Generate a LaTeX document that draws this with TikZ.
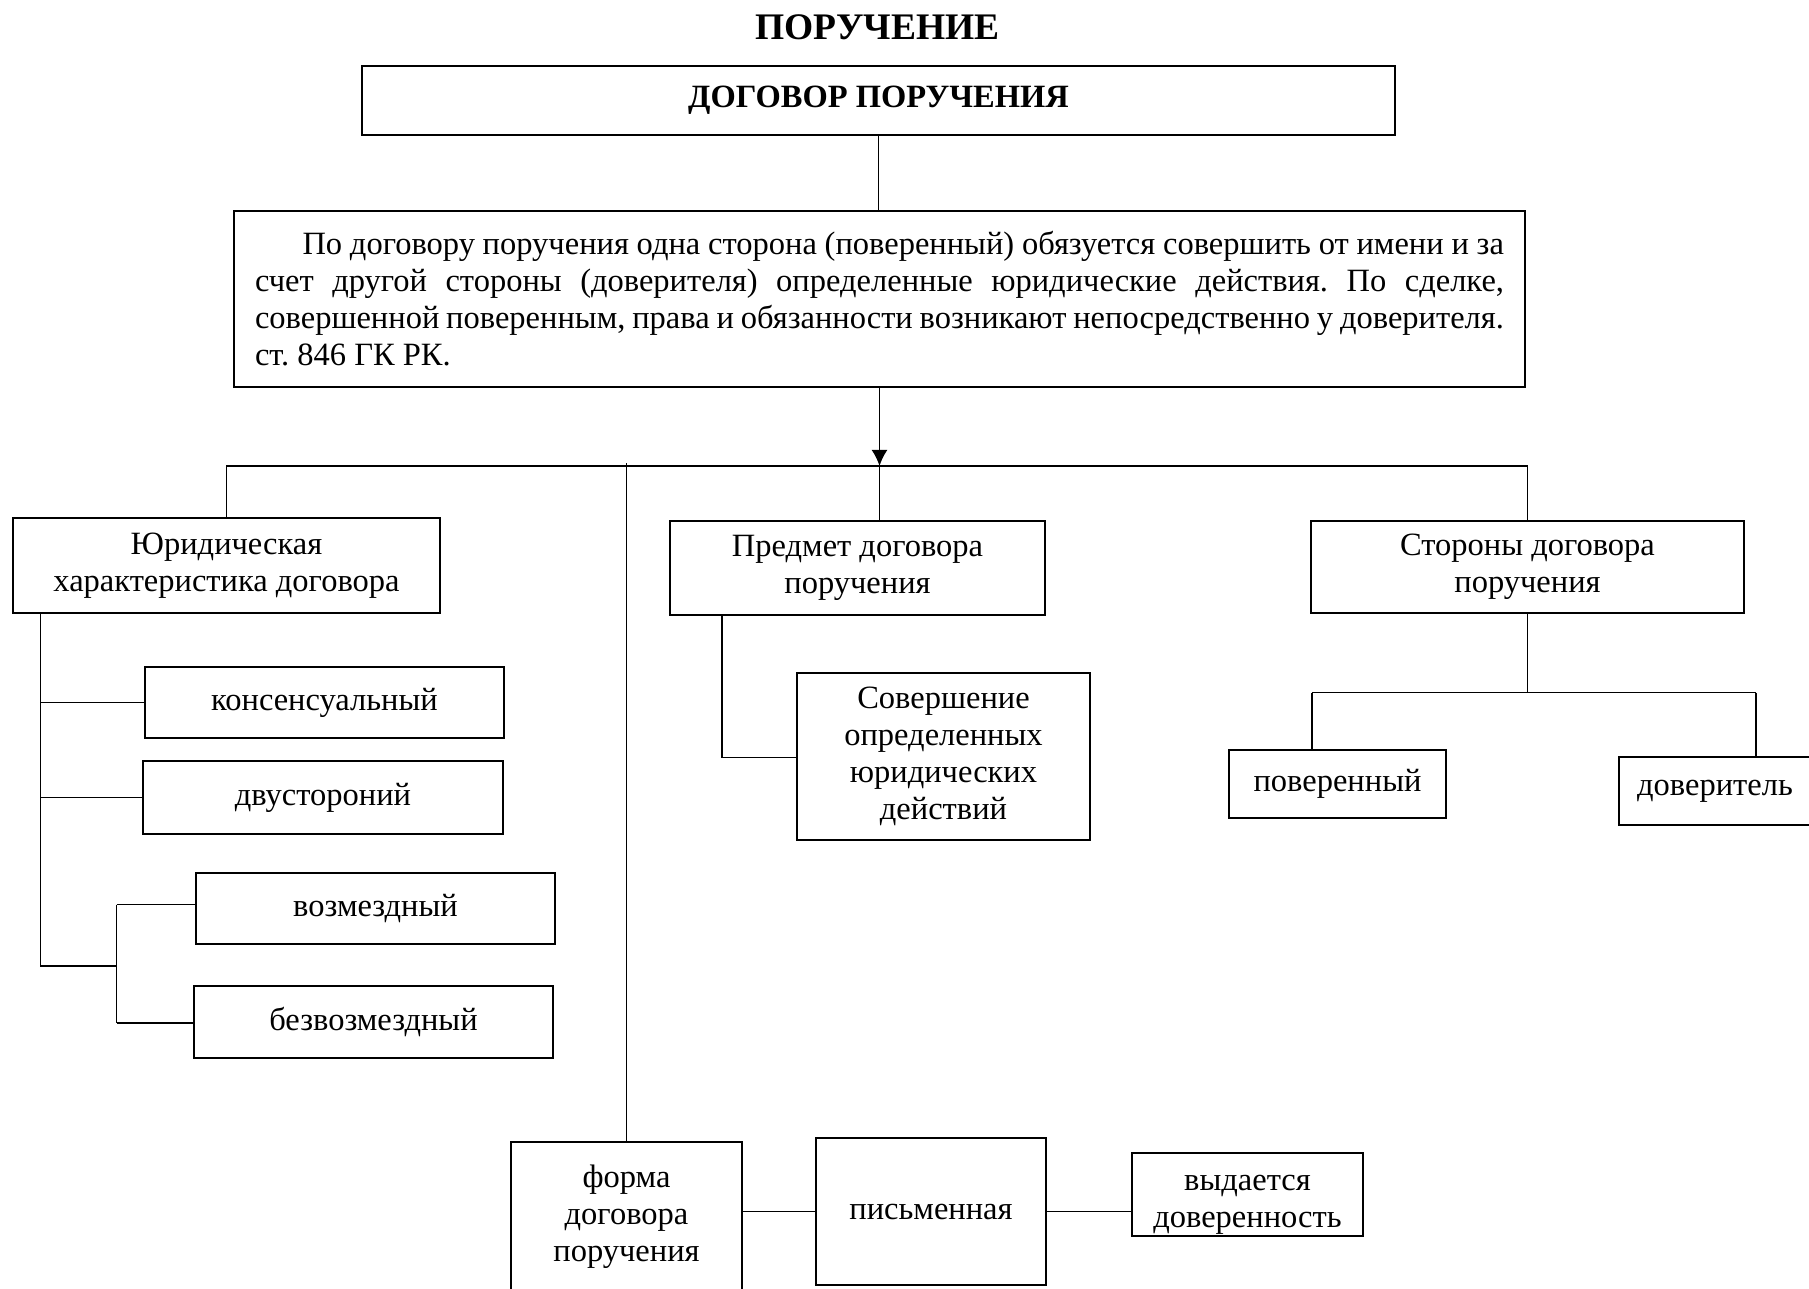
\documentclass[tikz,border=0pt]{standalone}
\usepackage{fontspec}
\setmainfont{Liberation Serif}
\usetikzlibrary{arrows.meta}
\frenchspacing

\begin{document}
\begin{tikzpicture}[x=1pt, y=-1pt,
    font=\fontsize{13pt}{14.8pt}\selectfont,
    blk/.style={draw, line width=0.8pt, align=center, inner sep=2pt},
    con/.style={line width=0.7pt}]
    \useasboundingbox (0,0) rectangle (723.6,515.2);

    % Draw nodes
    \node[font=\fontsize{15pt}{17pt}\selectfont\bfseries] (title) at (351,11.1) {ПОРУЧЕНИЕ};
    \node[blk, minimum width=413.2pt, minimum height=27.6pt, font=\fontsize{13pt}{14.8pt}\selectfont\bfseries] (dog) at (351.4,40.2) {ДОГОВОР ПОРУЧЕНИЯ};
    \node[blk, align=justify, text width=499.6pt, inner sep=8.4pt, minimum height=67.2pt] (def) at (351.8,119.6)
        {\hspace*{19pt}По договору поручения одна сторона (поверенный) обязуется совершить от имени и за\linebreak
         счет другой стороны (доверителя) определенные юридические действия. По сделке,\linebreak
         совершенной поверенным, права и обязанности возникают непосредственно у доверителя.\\
         ст. 846 ГК РК.};

    \node[blk, minimum width=170.8pt, minimum height=38pt] (yur) at (90.6,226.2) {Юридическая\\характеристика договора};
    \node[blk, minimum width=150pt, minimum height=37.6pt] (pred) at (343,227.2) {Предмет договора\\поручения};
    \node[blk, minimum width=173.2pt, minimum height=36.8pt] (stor) at (611,226.8) {Стороны договора\\поручения};

    \node[blk, minimum width=143.6pt, minimum height=28.4pt] (kons) at (129.8,281) {консенсуальный};
    \node[blk, minimum width=144pt, minimum height=29.2pt] (dvu) at (129.2,319) {двустороний};
    \node[blk, minimum width=143.6pt, minimum height=28.4pt] (voz) at (150.2,363.4) {возмездный};
    \node[blk, minimum width=143.6pt, minimum height=28.8pt] (bez) at (149.4,408.8) {безвозмездный};

    \node[blk, minimum width=117.2pt, minimum height=66.8pt] (sov) at (377.4,302.6) {Совершение\\определенных\\юридических\\действий};

    \node[blk, minimum width=86.8pt, minimum height=27.2pt] (pov) at (535,313.6) {поверенный};
    \node[blk, minimum width=76.9pt, minimum height=27.2pt] (dov) at (686,316.4) {доверитель};

    \node[blk, minimum width=92.4pt, minimum height=61.2pt] (forma) at (250.6,487.4) {форма\\договора\\поручения\rule[-4pt]{0pt}{0pt}};
    \node[blk, minimum width=92pt, minimum height=58.8pt] (pism) at (372.4,484.6) {письменная};
    \node[blk, inner ysep=0pt, minimum width=92.4pt, minimum height=33.2pt] (vyd) at (499,477.8) {\rule{0pt}{14.5pt}выдается\\доверенность};

    % Bend points
    \coordinate (busL) at (yur.north |- 0,186.4);
    \coordinate (busR) at (stor.north |- 0,186.4);
    \coordinate (busM) at (def.south |- 0,186.4);
    \coordinate (yt) at (yur.south -| 16.2,0);
    \coordinate (yb) at (16.2,386.3);
    \coordinate (yc) at (46.6,386.3);
    \coordinate (st) at (46.6,361.8);
    \coordinate (sb) at (46.6,409.3);
    \coordinate (pt) at (pred.south -| 288.9,0);
    \coordinate (pb) at (288.9,303);
    \coordinate (sj) at (stor.south |- 0,277);
    \coordinate (sl) at (524.7,277);
    \coordinate (sr) at (702.4,277);

    % Draw connections
    \draw[line width=0.5pt] (dog.south) -- (dog.south |- def.north);
    \draw[con, -{Latex[length=6.5pt, width=6.5pt]}] (def.south) -- (busM);
    \draw[con] (yur.north) -- (busL) -- (busR) -- (stor.north);
    \draw[con] (busM) -- (busM |- pred.north);
    \draw[con] (forma.north) -- (forma.north |- 0,185);

    \draw[con] (yt) -- (yb) -- (yc);
    \draw[con] (kons.west -| yt) -- (kons.west);
    \draw[con] (dvu.west -| yt) -- (dvu.west);
    \draw[con] (st) -- (sb);
    \draw[con] (st) -- (st -| voz.west);
    \draw[con] (sb) -- (sb -| bez.west);

    \draw[con] (pt) -- (pb) -- (pb -| sov.west);

    \draw[con] (stor.south) -- (sj);
    \draw[con] (sl) -- (sr);
    \draw[con] (sl) -- (sl |- pov.north);
    \draw[con] (sr) -- (sr |- dov.north);

    \draw[con] (pism.west -| forma.east) -- (pism.west);
    \draw[con] (pism.east) -- (pism.east -| vyd.west);
\end{tikzpicture}
\end{document}
